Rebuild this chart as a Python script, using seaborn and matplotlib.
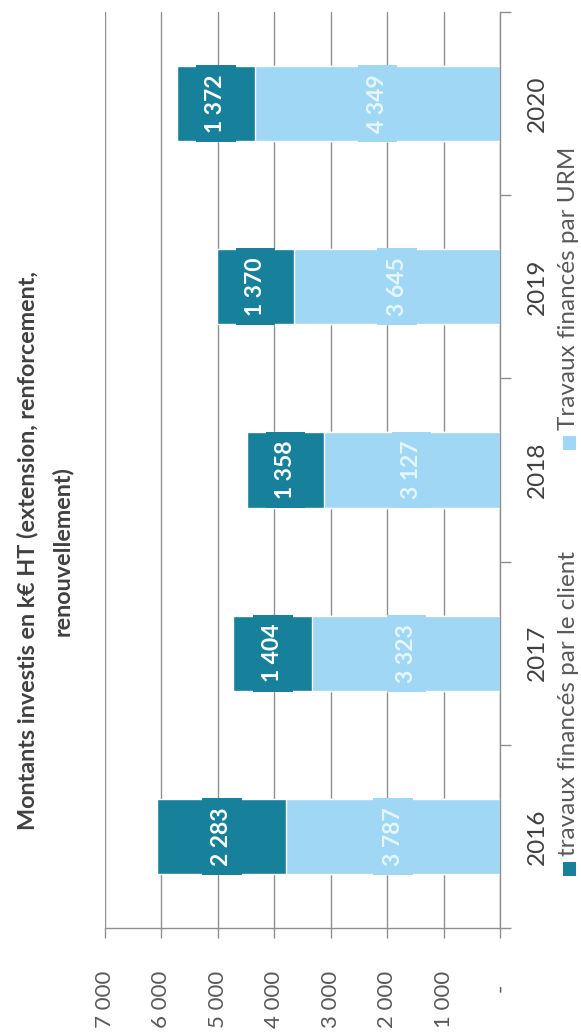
import numpy as np
import pandas as pd
import matplotlib
matplotlib.use("Agg")
import matplotlib.pyplot as plt
from matplotlib.patches import Rectangle
from matplotlib.transforms import ScaledTranslation
import seaborn as sns

# ---- data ----
years = ["2016", "2017", "2018", "2019", "2020"]
client = [2283, 1404, 1358, 1370, 1372]      # travaux financés par le client
urm = [3787, 3323, 3127, 3645, 4349]          # Travaux financés par URM
value_ticks = [0, 1000, 2000, 3000, 4000, 5000, 6000, 7000]
value_tick_labels = ["-", "1 000", "2 000", "3 000", "4 000", "5 000", "6 000", "7 000"]
series_names = ["travaux financés par le client", "Travaux financés par URM"]
title = "Montants investis en k€ HT (extension, renforcement,\nrenouvellement)"

DARK = "#17809b"
LIGHT = "#9fd7f4"
GRID = "#8f8f8f"

sns.set_theme(style="white")
plt.rcParams["font.family"] = ["Lato", "DejaVu Sans"]

W, H = 581, 1036
fig = plt.figure(figsize=(W / 100, H / 100), dpi=100)
fig.patch.set_facecolor("white")

def fx(px):
    return px / W

def fy(py):
    return 1 - py / H

ax_left, ax_right, ax_top, ax_bottom = 105, 500, 12, 928
ax = fig.add_axes([fx(ax_left), fy(ax_bottom), fx(ax_right - ax_left), (ax_bottom - ax_top) / H])

df = pd.DataFrame({"annee": years, "client": client, "urm": urm})
df["total"] = df["client"] + df["urm"]
order = years[::-1]

sns.barplot(data=df, y="annee", x="total", order=order, orient="h", color=DARK,
            saturation=1, width=0.41, ax=ax, errorbar=None)
sns.barplot(data=df, y="annee", x="urm", order=order, orient="h", color=LIGHT,
            saturation=1, width=0.41, ax=ax, errorbar=None)

ax.set_xlim(7000, 0)
ax.set_ylim(4.5, -0.5)
ax.set_xlabel("")
ax.set_ylabel("")

# value axis (bottom)
ax.set_xticks(value_ticks)
ax.set_xticklabels(value_tick_labels)
ax.tick_params(axis="x", which="major", bottom=True, length=7, width=1, color=GRID,
               pad=24, labelsize=16, labelcolor="#595959", rotation=90)
ax.grid(axis="x", color=GRID, linewidth=1)
ax.grid(axis="y", visible=False)
ax.set_axisbelow(True)

# category axis (right)
ax.yaxis.tick_right()
ax.set_yticks(range(len(order)))
ax.set_yticklabels(order)
ax.set_yticks(np.arange(-0.5, len(order), 1.0), minor=True)
ax.tick_params(axis="y", which="major", length=0, pad=19, labelsize=17.5,
               labelcolor="#404040", rotation=90)
ax.tick_params(axis="y", which="minor", right=True, left=False, length=8, width=1, color=GRID)
for lbl in ax.get_yticklabels():
    lbl.set_verticalalignment("center")

# zero label ("-") sits a little lower, as in accounting format
zero_lbl = ax.get_xticklabels()[0]
zero_lbl.set_verticalalignment("center")
zero_lbl.set_transform(zero_lbl.get_transform() + ScaledTranslation(0, -0.17, fig.dpi_scale_trans))

for side in ["top", "left"]:
    ax.spines[side].set_visible(False)
for side in ["right", "bottom"]:
    ax.spines[side].set_visible(True)
    ax.spines[side].set_color(GRID)
    ax.spines[side].set_linewidth(1)

# data labels
fmt = lambda v: f"{v:,}".replace(",", " ")
for i, yr in enumerate(order):
    row = df[df["annee"] == yr].iloc[0]
    ax.text(row["urm"] / 2, i, fmt(row["urm"]), rotation=90, ha="center", va="center",
            fontsize=16.5, fontweight="bold", color="#e6f6fd",
            bbox=dict(boxstyle="square,pad=0.4", fc=LIGHT, ec="none"))
    ax.text(row["urm"] + row["client"] / 2, i, fmt(row["client"]), rotation=90,
            ha="center", va="center", fontsize=16.5, fontweight="bold", color="white",
            bbox=dict(boxstyle="square,pad=0.4", fc=DARK, ec="none"))

# title (rotated)
fig.text(fx(45), fy(551), title, rotation=90, ha="center", va="center", fontsize=16.8,
         fontweight="bold", color="#404040", multialignment="center", linespacing=1.7)

# legend (rotated, built manually)
sq_w, sq_h = 13, 14
leg_x = 569
entries = [(series_names[0], DARK, 876), (series_names[1], LIGHT, 450)]
for name, col, y0 in entries:
    fig.add_artist(Rectangle((fx(leg_x - sq_w / 2), fy(y0)), sq_w / W, sq_h / H,
                             transform=fig.transFigure, fc=col, ec="none"))
    fig.text(fx(579), fy(y0 - sq_h - 6), name, rotation=90, ha="right", va="bottom",
             fontsize=17.5, color="#595959")

fig.savefig("out.png", dpi=100, facecolor="white")
